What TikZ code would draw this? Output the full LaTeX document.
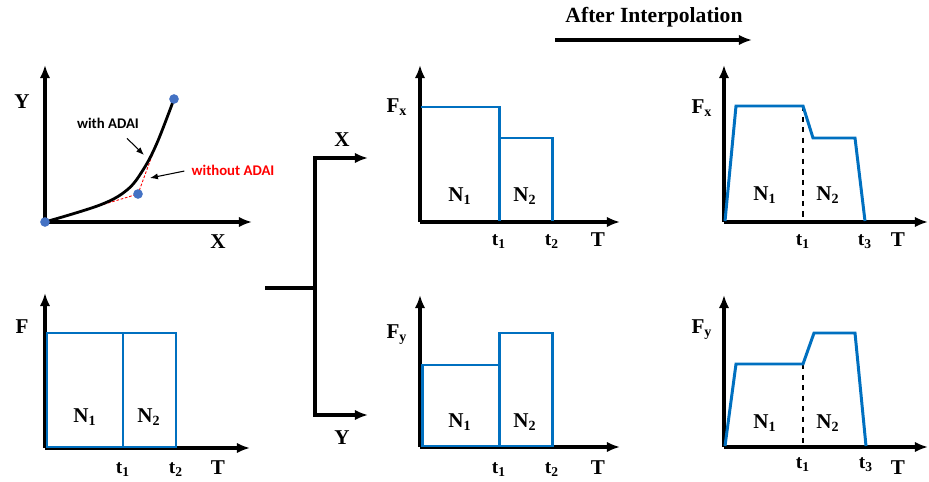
\documentclass[tikz,border=0pt]{standalone}
\usepackage{fontspec}
\setmainfont{Liberation Serif}
\newfontfamily\adaifont{Carlito}
\usetikzlibrary{arrows.meta}
\definecolor{kurve}{RGB}{0,112,192}
\definecolor{punktblau}{RGB}{68,114,196}
\begin{document}
\begin{tikzpicture}[x=0.02cm,y=-0.02cm,>={Latex[length=7.5pt,width=6pt]},
  achse/.style={->,line width=1.8pt},
  treppe/.style={kurve,line width=1.7pt},
  lbl/.style={font=\bfseries\fontsize{12}{14}\selectfont,inner sep=0pt},
  tlbl/.style={font=\bfseries\fontsize{11}{13}\selectfont,inner sep=0pt},
  adai/.style={font=\adaifont\bfseries\fontsize{8.4}{10}\selectfont,inner sep=1pt},
  klein/.style={-{Latex[length=4.5pt,width=3.5pt]},line width=0.6pt},
  punkt/.style={circle,fill=punktblau,inner sep=0pt,minimum size=5.5pt}]
\useasboundingbox (0,0) rectangle (929,482);
% Kurve oben links
\coordinate (o1) at (45,222);
\coordinate (y1) at (45,65);
\coordinate (x1) at (252,222);
\draw[achse] (o1) -- (y1);
\draw[achse] (o1) -- (x1);
\node[lbl] (Y1) at (22,102) {Y};
\node[lbl] (X1) at (218,242) {X};
\coordinate (q0) at (45,222);
\coordinate (q1) at (138,194);
\coordinate (q2) at (174,99);
\draw[red,line width=0.5pt,dash pattern=on 1.5pt off 1pt] (q0) -- (q1) -- (153,153);
\draw[line width=1.6pt] plot[smooth,tension=0.6] coordinates
  {(45,222) (100,205) (127,190) (143,170) (157,143) (174,99)};
\node[punkt] (p0) at (q0) {};
\node[punkt] (p1) at (q1) {};
\node[punkt] (p2) at (q2) {};
% Beschriftungen mit/ohne ADAI
\node[adai] (mit) at (108,123) {with ADAI};
\coordinate (mitziel) at (144,155);
\draw[klein] (mit.south) ++(19,8) -- (mitziel);
\node[adai,red] (ohne) at (233,170) {without ADAI};
\coordinate (ohneziel) at (150,178);
\draw[klein,shorten <=3pt] (ohne.west) -- (ohneziel);
% Kraft unten links
\coordinate (o2) at (45,448);
\coordinate (y2) at (45,293);
\coordinate (x2) at (250,448);
\draw[achse] (o2) -- (y2);
\draw[achse] (o2) -- (x2);
\draw[treppe] (47,333) rectangle (176,447);
\draw[treppe] (123,333) -- (123,447);
\node[lbl] (F2) at (22,327) {F};
\node[lbl] (N21) at (85,417) {N\textsubscript{1}};
\node[lbl] (N22) at (149,417) {N\textsubscript{2}};
\node[tlbl] (t21) at (123,470) {t\textsubscript{1}};
\node[tlbl] (t22) at (176,470) {t\textsubscript{2}};
\node[lbl] (T2) at (218,468) {T};
% Aufteilung in X und Y
\coordinate (sp0) at (265,288);
\coordinate (sp1) at (315,288);
\coordinate (spx) at (368,158);
\coordinate (spy) at (368,415);
\draw[line width=1.8pt] (sp0) -- (sp1);
\draw[achse] (sp1) |- (spx);
\draw[achse] (sp1) |- (spy);
\node[lbl] (Xs) at (342,140) {X};
\node[lbl] (Ys) at (342,438) {Y};
% Ueberschrift
\node[font=\bfseries\fontsize{12.3}{14}\selectfont,inner sep=0pt] (titel) at (654,17) {After Interpolation};
\coordinate (ta) at (555,40);
\coordinate (te) at (752,40);
\draw[achse] (ta) -- (te);
% Fx vorher
\coordinate (o3) at (420,222);
\coordinate (y3) at (420,65);
\coordinate (x3) at (620,222);
\draw[achse] (o3) -- (y3);
\draw[achse] (o3) -- (x3);
\draw[treppe] (421,107) -- (499,107) -- (499,221);
\draw[treppe] (499,138) -- (552,138) -- (552,221);
\node[lbl] (F3) at (397,107) {F\textsubscript{x}};
\node[lbl] (N31) at (460,196) {N\textsubscript{1}};
\node[lbl] (N32) at (525,196) {N\textsubscript{2}};
\node[tlbl] (t31) at (499,242) {t\textsubscript{1}};
\node[tlbl] (t32) at (552,242) {t\textsubscript{2}};
\node[lbl] (T3) at (598,240) {T};
% Fy vorher
\coordinate (o4) at (420,447);
\coordinate (y4) at (420,295);
\coordinate (x4) at (620,447);
\draw[achse] (o4) -- (y4);
\draw[achse] (o4) -- (x4);
\draw[treppe] (422,365) rectangle (499,446);
\draw[treppe] (499,333) rectangle (552,446);
\node[lbl] (F4) at (397,335) {F\textsubscript{y}};
\node[lbl] (N41) at (460,422) {N\textsubscript{1}};
\node[lbl] (N42) at (525,422) {N\textsubscript{2}};
\node[tlbl] (t41) at (499,470) {t\textsubscript{1}};
\node[tlbl] (t42) at (552,470) {t\textsubscript{2}};
\node[lbl] (T4) at (598,468) {T};
% Fx nach Interpolation
\coordinate (o5) at (724,222);
\coordinate (y5) at (724,65);
\coordinate (x5) at (928,222);
\draw[achse] (o5) -- (y5);
\draw[achse] (o5) -- (x5);
\draw[dashed,line width=0.6pt] (803,106) -- (803,222);
\draw[treppe] (725,221) -- (736,106) -- (803,106) -- (813,138) -- (855,138) -- (865,221);
\node[lbl] (F5) at (702,108) {F\textsubscript{x}};
\node[lbl] (N51) at (765,195) {N\textsubscript{1}};
\node[lbl] (N52) at (828,195) {N\textsubscript{2}};
\node[tlbl] (t51) at (803,242) {t\textsubscript{1}};
\node[tlbl] (t53) at (865,242) {t\textsubscript{3}};
\node[lbl] (T5) at (898,240) {T};
% Fy nach Interpolation
\coordinate (o6) at (724,447);
\coordinate (y6) at (724,295);
\coordinate (x6) at (928,447);
\draw[achse] (o6) -- (y6);
\draw[achse] (o6) -- (x6);
\draw[dashed,line width=0.6pt] (803,364) -- (803,447);
\draw[treppe] (725,446) -- (736,364) -- (803,364) -- (814,333) -- (855,333) -- (866,446);
\node[lbl] (F6) at (702,330) {F\textsubscript{y}};
\node[lbl] (N61) at (765,423) {N\textsubscript{1}};
\node[lbl] (N62) at (828,423) {N\textsubscript{2}};
\node[tlbl] (t61) at (803,465) {t\textsubscript{1}};
\node[tlbl] (t63) at (866,465) {t\textsubscript{3}};
\node[lbl] (T6) at (898,468) {T};
\end{tikzpicture}
\end{document}
